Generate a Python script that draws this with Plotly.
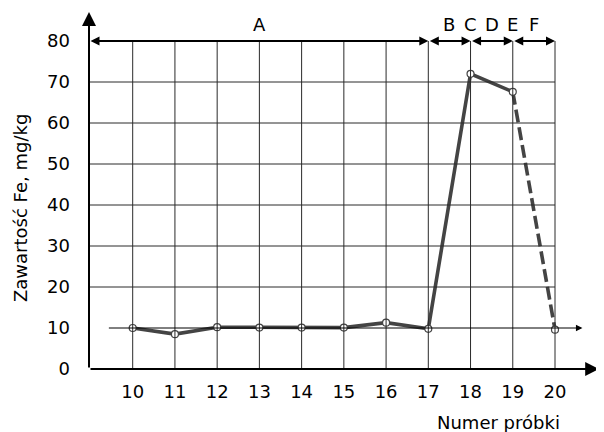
import plotly.graph_objects as go

# ---- data ----
sample_no = [10, 11, 12, 13, 14, 15, 16, 17, 18, 19, 20]
fe_mg_kg = [10.0, 8.5, 10.2, 10.1, 10.1, 10.1, 11.3, 9.8, 72.0, 67.6, 9.6]
x_ticks = [10, 11, 12, 13, 14, 15, 16, 17, 18, 19, 20]
y_ticks = [0, 10, 20, 30, 40, 50, 60, 70, 80]
zone_labels = ["A", "B", "C", "D", "E", "F"]
zone_label_x = [13, 17.5, 18, 18.5, 19, 19.5]
zone_bounds = [17, 18, 19, 20]
x_title = "Numer próbki"
y_title = "Zawartość Fe, mg/kg"

# ---- geometry (page body has an 8px margin) ----
OFF = 8
W, H = 604 - OFF, 432 - OFF
ml, mr, mt, mb = 89 - OFF, 4, 10 - OFF, 63
px_per_x = 42.23
px_per_y = 4.1
x0 = 10 - (132.7 - 89) / px_per_x
x1 = x0 + (W - ml - mr) / px_per_x
y0 = 0
y1 = (H - mt - mb) / px_per_y

FONT = "DejaVu Sans"
DARK = "#444444"
GRID = "#2a2a2a"

fig = go.Figure()

shapes = []
for xv in x_ticks:
    shapes.append(dict(type="line", xref="x", yref="y", x0=xv, x1=xv, y0=0, y1=80,
                       line=dict(color=GRID, width=1)))
for yv in y_ticks:
    if yv in (0, 10, 80):
        continue
    shapes.append(dict(type="line", xref="x", yref="y", x0=x0, x1=x_ticks[-1], y0=yv, y1=yv,
                       line=dict(color=GRID, width=1)))

annotations = []
annotations.append(dict(x=x0, y=y1 - 0.5, ax=x0, ay=0, xref="x", yref="y", axref="x", ayref="y",
                        text="", showarrow=True, arrowhead=2, arrowsize=1.4, arrowwidth=2,
                        arrowcolor="black", standoff=0))
annotations.append(dict(x=x1 - 0.02, y=0, ax=x0, ay=0, xref="x", yref="y", axref="x", ayref="y",
                        text="", showarrow=True, arrowhead=2, arrowsize=1.4, arrowwidth=2,
                        arrowcolor="black", standoff=0))
annotations.append(dict(x=20.65, y=10, ax=9.4, ay=10, xref="x", yref="y", axref="x", ayref="y",
                        text="", showarrow=True, arrowhead=2, arrowsize=1.3, arrowwidth=1,
                        arrowcolor="black", standoff=0))
starts = [x0] + zone_bounds[:-1]
for s, e in zip(starts, zone_bounds):
    annotations.append(dict(x=e, y=80, ax=s, ay=80, xref="x", yref="y", axref="x", ayref="y",
                            text="", showarrow=True, arrowhead=2, startarrowhead=2,
                            arrowside="end+start", arrowsize=1.0, startarrowsize=1.0,
                            arrowwidth=1.8, arrowcolor="black", standoff=0, startstandoff=0))
for lab, xv in zip(zone_labels, zone_label_x):
    annotations.append(dict(x=xv, y=84.1, xref="x", yref="y", text=lab, showarrow=False,
                            font=dict(family=FONT, size=18, color="black"),
                            xanchor="center", yanchor="middle"))
pw, ph = W - ml - mr, H - mt - mb
annotations.append(dict(x=(20 - 89) / pw, y=(369 - 208) / ph,
                        xref="paper", yref="paper", text=y_title, textangle=-90, showarrow=False,
                        font=dict(family=FONT, size=18, color="black"),
                        xanchor="center", yanchor="middle"))
annotations.append(dict(x=(498.5 - 89) / pw, y=(369 - 422) / ph,
                        xref="paper", yref="paper", text=x_title, showarrow=False,
                        font=dict(family=FONT, size=18, color="black"),
                        xanchor="center", yanchor="middle"))

fig.add_trace(go.Scatter(x=sample_no[:-1], y=fe_mg_kg[:-1], mode="lines",
                         line=dict(color=DARK, width=3.6), hoverinfo="skip"))
fig.add_trace(go.Scatter(x=sample_no[-2:], y=fe_mg_kg[-2:], mode="lines",
                         line=dict(color=DARK, width=3.6, dash="13px,5px"), hoverinfo="skip"))
fig.add_trace(go.Scatter(x=sample_no, y=fe_mg_kg, mode="markers",
                         marker=dict(size=7, color="white", line=dict(color=DARK, width=1.2))))

fig.update_layout(
    width=W, height=H, margin=dict(l=ml, r=mr, t=mt, b=mb, autoexpand=False),
    paper_bgcolor="white", plot_bgcolor="white", showlegend=False,
    shapes=shapes, annotations=annotations,
    font=dict(family=FONT, size=18, color="black"),
)
fig.update_xaxes(range=[x0, x1], tickvals=x_ticks, ticktext=[str(v) for v in x_ticks],
                 showgrid=False, zeroline=False, showline=False, ticks="",
                 ticklabelstandoff=10, tickfont=dict(family=FONT, size=18, color="black"))
fig.update_yaxes(range=[y0, y1], tickvals=y_ticks, ticktext=[str(v) for v in y_ticks],
                 showgrid=False, zeroline=False, showline=False, ticks="",
                 ticklabelstandoff=18, tickfont=dict(family=FONT, size=18, color="black"))

fig.write_html("out.html")
